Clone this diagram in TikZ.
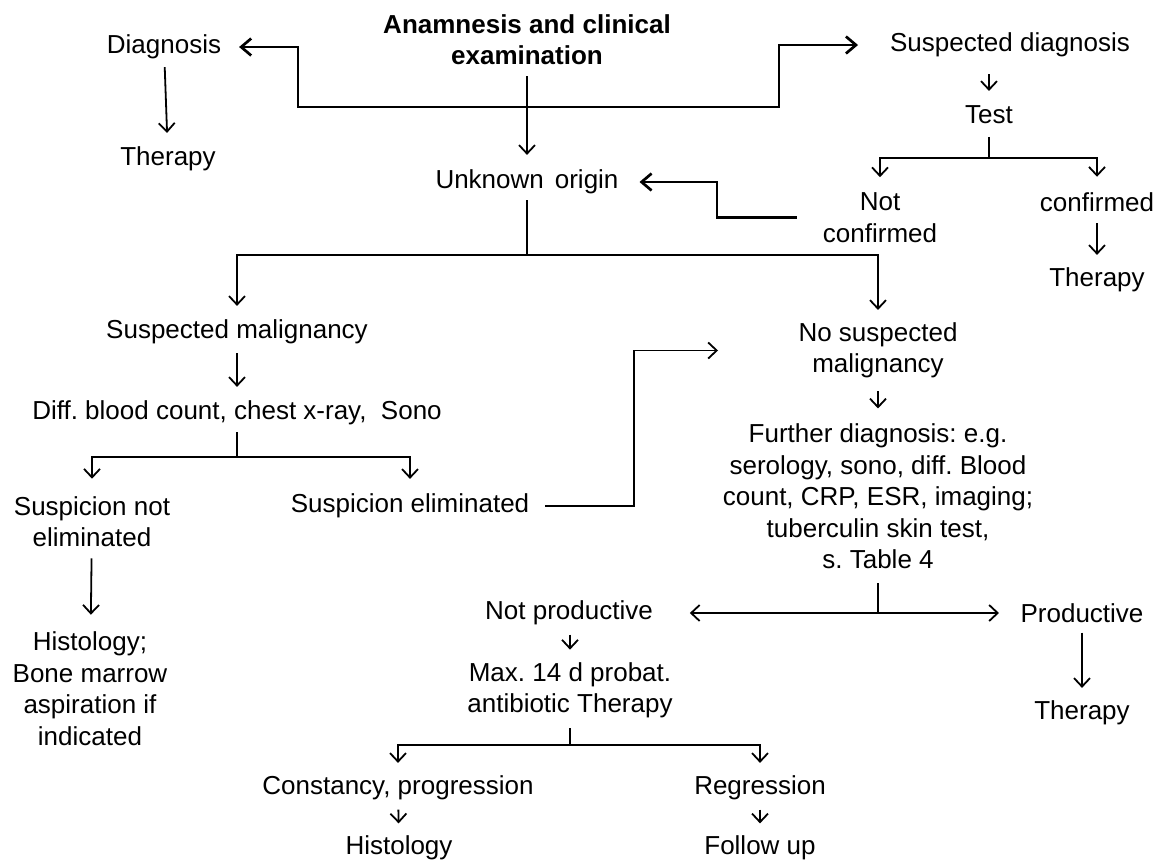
\documentclass[tikz,border=0pt]{standalone}
\usepackage{fontspec}
\setmainfont{Liberation Sans}
\usetikzlibrary{arrows.meta}
\frenchspacing
\begin{document}
\begin{tikzpicture}[x=1pt,y=-1pt,
  every node/.style={inner sep=0pt, outer sep=0pt, font=\fontsize{26}{31.5}\selectfont, align=center},
  ln/.style={line width=1.8pt},
  arr/.style={ln, -{Straight Barb[length=8.5pt,width=16pt]}},
  thk/.style={line width=2.7pt},
  arrT/.style={thk, -{Straight Barb[length=10pt,width=17pt]}},
]
\path[use as bounding box, fill=white] (0,0) rectangle (1158,863);

% nodes
\node[font=\fontsize{26}{31}\selectfont\bfseries] (title) at (527,39.5) {Anamnesis and clinical\\examination};
\node (diag) at (164,47) {Diagnosis};
\node (ther1) at (168,159) {Therapy};
\node (susp) at (1010,45) {Suspected diagnosis};
\node (test) at (989,115) {Test};
\node (notconf) at (880,217.5) {Not\\confirmed};
\node (conf) at (1097,202) {confirmed};
\node (ther2) at (1097,280) {Therapy};
\node (unk) at (527,182) {Unknown\hspace{11pt}origin};
\node (smal) at (237,332) {Suspected malignancy};
\node (diff) at (237,413) {Diff. blood count, chest x-ray,\ \ Sono};
\node (snot) at (92,521.5) {Suspicion not\\eliminated};
\node (selim) at (410,506) {Suspicion eliminated};
\node (hist1) at (90,688.5) {Histology;\\Bone marrow\\aspiration if\\indicated};
\node (nosm) at (878,350.5) {No suspected\\malignancy};
\node (further) at (878,496.5) {Further diagnosis: e.g.\\serology, sono, diff. Blood\\count, CRP, ESR, imaging;\\tuberculin skin test,\\s. Table 4};
\node (notprod) at (569,613) {Not productive};
\node (prod) at (1082,613) {Productive};
\node (ther3) at (1082,713) {Therapy};
\node (max) at (570,690.5) {Max. 14 d probat.\\antibiotic Therapy};
\node (const) at (398,788) {Constancy, progression};
\node (regr) at (760,788) {Regression};
\node (hist2) at (399,848) {Histology};
\node (follow) at (760,848) {Follow up};

% junctions
\coordinate (hb) at (527,107);
\coordinate (cL) at (298,107);
\coordinate (cR) at (779,107);
\coordinate (tb) at (989,158);
\coordinate (cN) at (717,217.5);
\coordinate (ub) at (527,255);
\coordinate (db) at (237,457);
\coordinate (cS) at (634,506);
\coordinate (fb) at (878,613);
\coordinate (mb) at (570,745);

% connectors
\draw[arr, shorten <=11.5pt, shorten >=15pt] (title) -- (unk);
\draw[arrT, shorten >=18pt] (hb) -- (cL) |- (diag.east);
\draw[arrT, shorten >=32pt] (hb) -- (cR) |- (susp.west);
\draw[arr, shorten <=8pt, shorten >=14pt] (diag) -- (ther1);

\draw[arr, shorten <=17pt, shorten >=15pt] (test |- susp.south) -- (test.north);
\draw[ln, shorten <=12.7pt] (test.south) -- (tb);
\draw[arr, shorten >=15.5pt] (tb) -| (notconf.north);
\draw[arr, shorten >=15.7pt] (tb) -| (conf.north);
\draw[arr, shorten <=11.7pt, shorten >=13pt] (conf) -- (ther2);
\draw[arrT, shorten <=26pt, shorten >=21pt] (notconf.west) -- (cN) |- (unk.east);

\draw[ln, shorten <=6pt] (unk.south) -- (ub);
\draw[arr, shorten >=14pt] (ub) -| (smal.north);
\draw[arr, shorten >=12.7pt] (ub) -| (nosm.north);

\draw[arr, shorten <=9pt, shorten >=14pt] (smal) -- (diff);
\draw[ln, shorten <=7pt] (diff.south) -- (db);
\draw[arr, shorten >=17.5pt] (db) -| (snot.north);
\draw[arr, shorten >=15pt] (db) -| (selim.north);
\draw[arr, shorten <=11.5pt, shorten >=17pt] (snot) -- (hist1);
\draw[arr, shorten <=16pt, shorten >=80.5pt] (selim.east) -- (cS) |- (nosm.west);

\draw[arr, shorten <=13pt, shorten >=15.5pt] (nosm) -- (further);
\draw[ln, shorten <=14pt] (further.south) -- (fb);
\draw[arr, shorten >=37pt] (fb) -- (notprod.east);
\draw[arr, shorten >=21.6pt] (fb) -- (prod.west);
\draw[arr, shorten <=10pt, shorten >=13pt] (prod) -- (ther3);

\draw[arr, shorten <=9.5pt, shorten >=13pt] (max |- notprod.south) -- (max.north);
\draw[ln, shorten <=9.7pt] (max.south) -- (mb);
\draw[arr, shorten >=13pt] (mb) -| (const.north);
\draw[arr, shorten >=13pt] (mb) -| (regr.north);
\draw[arr, shorten <=9.5pt, shorten >=12.5pt] (const) -- (hist2);
\draw[arr, shorten <=9.5pt, shorten >=12.5pt] (regr) -- (follow);
\end{tikzpicture}
\end{document}
